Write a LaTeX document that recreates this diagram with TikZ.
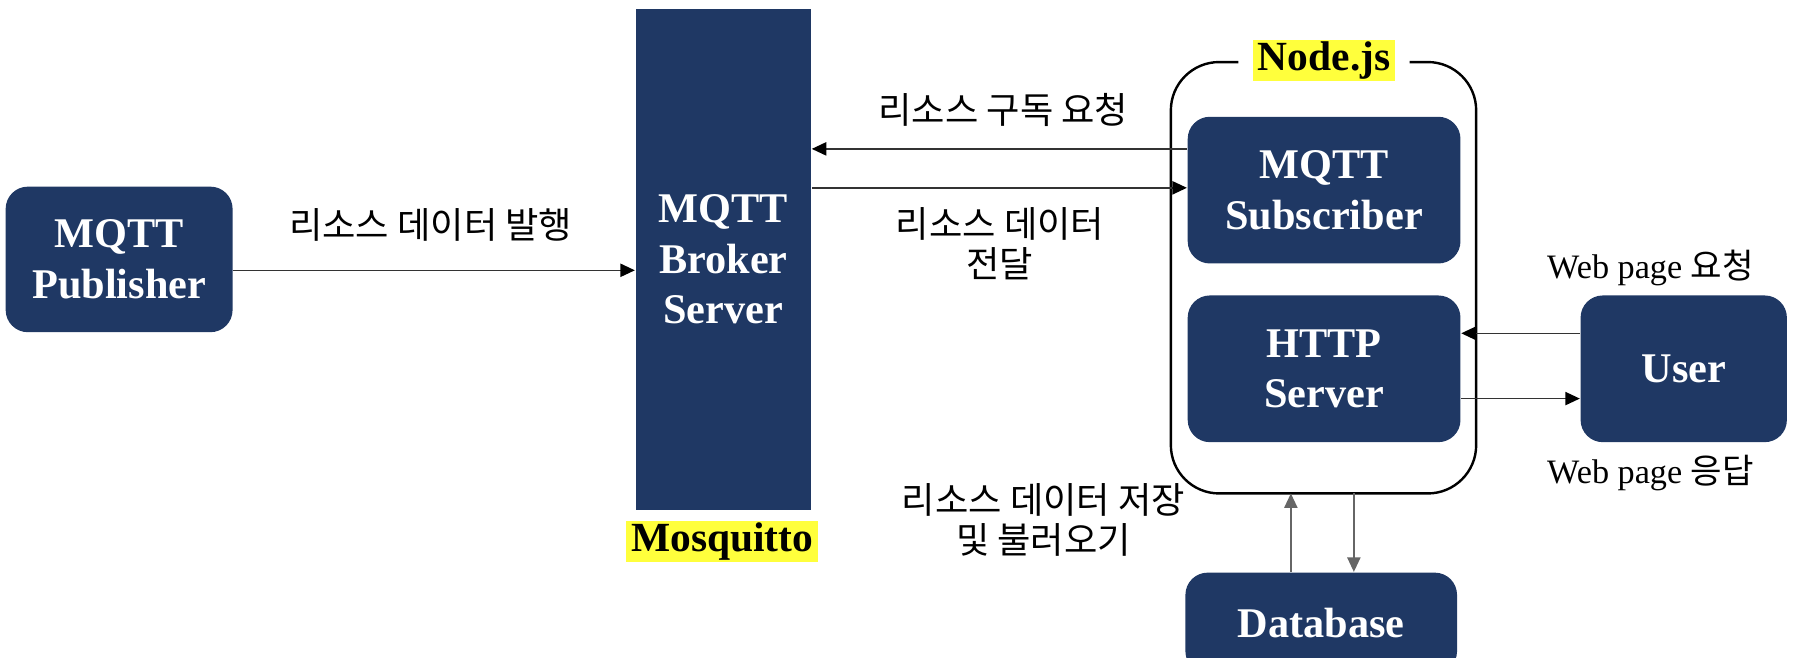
\documentclass[tikz,border=0pt]{standalone}
\usepackage{fontspec}
\setmainfont{Liberation Serif}
\newfontfamily\kr{Noto Sans CJK KR}
\usetikzlibrary{arrows.meta}
\definecolor{navy}{HTML}{1F3864}
\definecolor{hly}{HTML}{FFFF3C}
\begin{document}
\begin{tikzpicture}[x=0.01cm,y=-0.01cm,
  box/.style={fill=navy, text=white, font=\bfseries\fontsize{10.5}{12.5}\selectfont,
    align=center, rounded corners=5.5pt, inner sep=0pt},
  hl/.style={fill=hly, text=black, font=\bfseries\fontsize{10.3}{12}\selectfont,
    inner xsep=1.2pt, inner ysep=0pt, minimum height=0.36cm},
  klabel/.style={font=\kr\fontsize{9}{10}\selectfont, align=center, inner sep=0pt},
  wlabel/.style={font=\fontsize{8.5}{10}\selectfont, inner sep=0pt},
  arr/.style={draw=black!80, line width=0.35pt, -{Triangle[length=3.6pt,width=3.3pt,color=black]}},
  varr/.style={draw=black!60, line width=0.35pt, -{Triangle[length=3.6pt,width=3.3pt]}},
  frame/.style={draw=black, line width=0.6pt, rounded corners=12pt}
]
\useasboundingbox (0,0) rectangle (1568,574);

% main boxes
\node[box, minimum width=1.98cm, minimum height=1.27cm] (pub) at (104,226.5) {MQTT\\Publisher};
\node[box, rounded corners=0pt, minimum width=1.53cm, minimum height=4.37cm] (broker) at (631.5,226.5) {MQTT\\Broker\\Server};
\node[hl] (mosq) at (630.5,472.5) {Mosquitto};

% Node.js container
\node[minimum width=2.65cm, minimum height=3.75cm, inner sep=0pt] (nodejs) at (1155.5,242.5) {};
\node[hl] (njs) at (1156,53) {Node.js};
\draw[frame] ([xshift=-0.12cm]njs.west |- nodejs.north) -- (nodejs.north west) -- (nodejs.south west)
  -- (nodejs.south east) -- (nodejs.north east) -- ([xshift=0.12cm]njs.east |- nodejs.north);

\node[box, minimum width=2.38cm, minimum height=1.28cm] (sub) at (1156,166) {MQTT\\Subscriber};
\node[box, minimum width=2.38cm, minimum height=1.28cm] (http) at (1156,322) {HTTP\\Server};
\node[box, minimum width=1.80cm, minimum height=1.28cm] (user) at (1470,322) {User};
\node[box, minimum width=2.37cm, minimum height=0.88cm] (db) at (1153.5,544) {Database};

% connectors
\draw[arr] (pub.east |- 0,236) -- (broker.west |- 0,236);
\draw[arr] (sub.west |- 0,130) -- (broker.east |- 0,130);
\draw[arr] (broker.east |- 0,164) -- (sub.west |- 0,164);
\draw[arr] (user.west |- 0,291) -- (http.east |- 0,291);
\draw[arr] (http.east |- 0,348) -- (user.west |- 0,348);
\draw[varr] (db.north -| 1127,0) -- (nodejs.south -| 1127,0);
\draw[varr] (nodejs.south -| 1182,0) -- (db.north -| 1182,0);

% labels
\node[klabel] (l1) at (376,196) {리소스 데이터 발행};
\node[klabel] (l2) at (876,96) {리소스 구독 요청};
\node[klabel] (l3) at (873,213) {리소스 데이터\\전달};
\node[klabel] (l4) at (911,454) {리소스 데이터 저장\\및 불러오기};
\node[wlabel] (l5) at (1441,234) {Web page {\kr 요청}};
\node[wlabel] (l6) at (1441,413) {Web page {\kr 응답}};
\end{tikzpicture}
\end{document}
